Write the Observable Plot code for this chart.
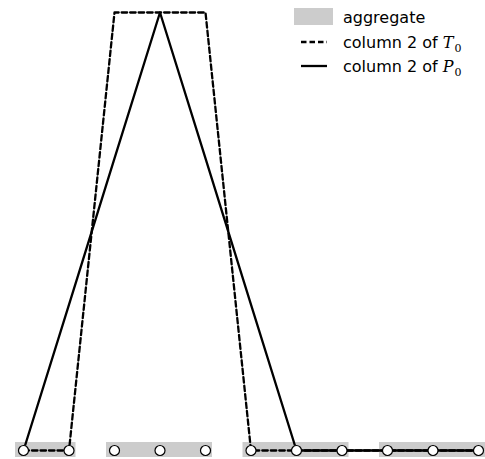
<!DOCTYPE html>
<html>
<head>
<meta charset="utf-8">
<script src="https://cdn.jsdelivr.net/npm/d3@7"></script>
<script src="https://cdn.jsdelivr.net/npm/@observablehq/plot@0.6"></script>
<style>
  html, body { margin: 0; padding: 0; background: #fff; }
  #chart svg { display: block; }
</style>
</head>
<body>
<div id="chart"></div>
<script>
// ---- data ----
const nodeIndex = [0, 1, 2, 3, 4, 5, 6, 7, 8, 9, 10];
const colT0 = [0, 0, 1, 1, 1, 0, 0, 0, 0, 0, 0];
const colP0 = [0, 0.333, 0.667, 1, 0.667, 0.333, 0, 0, 0, 0, 0];
const aggStart = [0, 2, 5, 8];
const aggEnd = [1, 4, 7, 10];
const legendLabels = ["aggregate", "column 2 of ", "column 2 of "];

const nodes = nodeIndex.map((x, i) => ({x, t: colT0[i], p: colP0[i]}));
const aggs = aggStart.map((s, i) => ({x1: s, x2: aggEnd[i], y: 0}));

const W = 485, H = 459;
const plot = Plot.plot({
  width: W,
  height: H,
  marginLeft: 23,
  marginRight: 7,
  marginTop: 12,
  marginBottom: 9,
  x: {domain: [0, 10], axis: null},
  y: {domain: [0, 1], axis: null},
  style: {background: "white"},
  marks: [
    Plot.rect(aggs, {x1: "x1", x2: "x2", y1: "y", y2: "y", fill: "#cccccc",
      insetLeft: -8, insetRight: -7, insetTop: -8, insetBottom: -7}),
    Plot.line(nodes, {x: "x", y: "t", stroke: "black", strokeWidth: 2.3, strokeDasharray: "5.5,3"}),
    Plot.line(nodes, {x: "x", y: "p", stroke: "black", strokeWidth: 2.3}),
    Plot.dot(nodes, {x: "x", y: 0, r: 5, fill: "white", stroke: "black", strokeWidth: 1.2})
  ]
});
document.getElementById("chart").appendChild(plot);

// ---- legend ----
const svg = d3.select(plot);
const lg = svg.append("g").attr("font-family", "DejaVu Sans").attr("font-size", 16).attr("text-anchor", "start");
const rowY = [17, 42, 66];
lg.append("rect").attr("x", 294).attr("y", rowY[0] - 9).attr("width", 39).attr("height", 17).attr("fill", "#cccccc");
lg.append("line").attr("x1", 301).attr("x2", 327).attr("y1", rowY[1]).attr("y2", rowY[1])
  .attr("stroke", "black").attr("stroke-width", 2.3).attr("stroke-dasharray", "5.5,3");
lg.append("line").attr("x1", 301).attr("x2", 327).attr("y1", rowY[2]).attr("y2", rowY[2])
  .attr("stroke", "black").attr("stroke-width", 2.3);
const mathSym = [null, "T", "P"];
legendLabels.forEach((lab, i) => {
  const t = lg.append("text").attr("x", 343).attr("y", rowY[i]).attr("dy", "0.35em").attr("fill", "black");
  t.append("tspan").text(lab);
  if (mathSym[i]) {
    t.append("tspan").attr("font-family", "DejaVu Serif").attr("font-style", "italic").text(mathSym[i]);
    t.append("tspan").attr("font-family", "DejaVu Serif").attr("font-size", 11).attr("dy", 4).attr("dx", 1).text("0");
  }
});
</script>
</body>
</html>
